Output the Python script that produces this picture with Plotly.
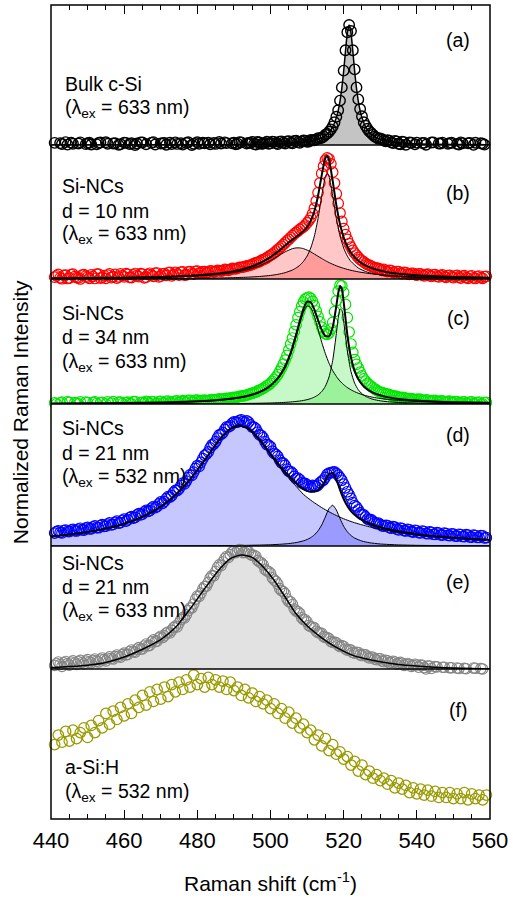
import numpy as np
import plotly.graph_objects as go
from plotly.subplots import make_subplots

# ------------------------------------------------------------------ data
shift_x = np.arange(441, 560)            # integer grid, cm^-1 (441 ... 559)
shift_x_half = np.arange(441.5, 559, 1)  # half-step grid (441.5 ... 558.5)

# (a) bulk c-Si, 633 nm
bulk_x = np.concatenate([np.arange(441, 516), np.arange(516, 528, 0.5), np.arange(528, 560)])
bulk_y = [
    0.018, -0.014, 0.008, 0.024, -0.018, 0.010, -0.006, 0.022, -0.016, 0.014,
    0.004, -0.020, 0.017, -0.008, 0.023, -0.012, 0.012, -0.017, 0.006, 0.020,
    -0.010, 0.015, 0.000, -0.019, 0.021, 0.006, -0.013, 0.024, -0.007, 0.012,
    0.018, -0.015, 0.008, 0.022, -0.011, 0.003, 0.017, -0.016, 0.010, 0.023,
    -0.006, 0.014, 0.019, -0.013, 0.009, 0.025, -0.004, 0.016, -0.010, 0.020,
    0.010, 0.022, -0.002, 0.017, 0.026, 0.004, 0.021, 0.012, 0.027, 0.014,
    0.026, 0.008, 0.030, 0.012, 0.032, 0.014, 0.036, 0.018, 0.038, 0.026,
    0.042, 0.040, 0.056, 0.060, 0.085,
    0.11, 0.13, 0.155, 0.19, 0.235, 0.29, 0.37, 0.48, 0.62, 0.79, 0.94, 1.00,
    0.95, 0.79, 0.63, 0.48, 0.38, 0.30, 0.24, 0.19, 0.16, 0.135, 0.115, 0.10,
    0.085, 0.062, 0.055, 0.038, 0.040, 0.022, 0.034, 0.010, 0.028, 0.002,
    0.022, -0.008, 0.020, -0.012, 0.018, -0.004, 0.021, -0.015, 0.012, 0.020,
    -0.010, 0.016, -0.017, 0.009, 0.022, -0.012, 0.014, -0.003, 0.019, -0.013,
    0.010, -0.006,
]
bulk_x_half = np.concatenate([np.arange(441.5, 516, 1), np.arange(528.5, 559, 1)])
bulk_y_half = [
    -0.004, 0.016, -0.012, 0.003, 0.020, -0.009, 0.013, -0.015, 0.007, 0.019,
    -0.011, 0.005, 0.021, -0.006, 0.010, -0.018, 0.015, 0.001, -0.013, 0.018,
    0.008, -0.016, 0.012, 0.022, -0.003, -0.015, 0.019, 0.004, -0.010, 0.016,
    0.002, 0.020, -0.012, 0.009, 0.014, -0.007, 0.023, 0.000, -0.014, 0.011,
    0.020, -0.009, 0.006, 0.017, -0.002, 0.012, 0.022, -0.008, 0.015, 0.005,
    0.024, -0.001, 0.013, 0.019, 0.007, 0.025, 0.009, 0.018, 0.011, 0.028,
    0.015, 0.027, 0.020, 0.030, 0.019, 0.033, 0.024, 0.030, 0.035, 0.029,
    0.040, 0.047, 0.055, 0.070, 0.095,
    0.070, 0.052, 0.048, 0.030, 0.035, 0.016, 0.030, 0.005, 0.024, -0.004,
    0.019, 0.006, -0.012, 0.017, 0.002, -0.009, 0.022, -0.005, 0.013, -0.016,
    0.010, 0.019, -0.008, 0.004, 0.015, -0.013, 0.018, 0.001, -0.007, 0.014,
    0.003,
]
bulk_fit_x = [440, 460, 480, 495, 505, 510, 513, 515, 516, 517, 518, 518.5, 519, 519.5, 520,
              520.5, 521, 521.5, 522, 522.5, 523, 523.5, 524, 524.5, 525, 526, 527, 528, 530,
              533, 538, 545, 560]
bulk_fit_y = [0.0005, 0.001, 0.002, 0.005, 0.013, 0.027, 0.048, 0.079, 0.107, 0.151, 0.228,
              0.286, 0.366, 0.474, 0.616, 0.783, 0.935, 1.0, 0.935, 0.783, 0.616, 0.474, 0.366,
              0.286, 0.228, 0.151, 0.107, 0.079, 0.048, 0.027, 0.013, 0.0065, 0.0024]

# (b) Si-NCs d = 10 nm, 633 nm
nc10_y = [
    0.015, 0.038, 0.002, 0.033, 0.008, 0.040, 0.012, 0.000, 0.036, 0.016,
    0.034, 0.004, 0.041, 0.014, 0.006, 0.043, 0.020, 0.008, 0.042, 0.018,
    0.038, 0.012, 0.046, 0.020, 0.040, 0.015, 0.048, 0.022, 0.050, 0.025,
    0.046, 0.052, 0.026, 0.056, 0.033, 0.059, 0.035, 0.062, 0.040, 0.066,
    0.054, 0.062, 0.057, 0.066, 0.063, 0.071, 0.070, 0.079, 0.078, 0.087,
    0.090, 0.098, 0.104, 0.112, 0.121, 0.134, 0.145, 0.162, 0.176, 0.198,
    0.218, 0.246, 0.272, 0.302, 0.330, 0.362, 0.388, 0.414, 0.435, 0.467,
    0.510, 0.590, 0.720, 0.880, 0.990, 1.000, 0.890, 0.710, 0.550, 0.420,
    0.330, 0.265, 0.215, 0.180, 0.152, 0.130, 0.115, 0.100, 0.090, 0.082,
    0.080, 0.062, 0.070, 0.052, 0.061, 0.044, 0.054, 0.038, 0.048, 0.033,
    0.042, 0.026, 0.040, 0.021, 0.036, 0.018, 0.034, 0.014, 0.031, 0.011,
    0.030, 0.008, 0.028, 0.006, 0.027, 0.004, 0.025, 0.006, 0.022,
]
nc10_y_half = [
    0.026, 0.010, 0.030, 0.004, 0.037, 0.020, 0.009, 0.032, 0.024, 0.005,
    0.022, 0.040, 0.007, 0.028, 0.033, 0.011, 0.039, 0.017, 0.029, 0.044,
    0.014, 0.035, 0.028, 0.045, 0.010, 0.038, 0.032, 0.049, 0.018, 0.042,
    0.030, 0.055, 0.036, 0.043, 0.058, 0.032, 0.060, 0.046, 0.064, 0.050,
    0.062, 0.054, 0.068, 0.060, 0.072, 0.066, 0.080, 0.072, 0.088, 0.084,
    0.097, 0.100, 0.110, 0.115, 0.130, 0.138, 0.155, 0.168, 0.188, 0.207,
    0.232, 0.258, 0.287, 0.317, 0.346, 0.376, 0.400, 0.425, 0.450, 0.487,
    0.545, 0.650, 0.800, 0.940, 1.010, 0.960, 0.800, 0.630, 0.480, 0.370,
    0.295, 0.238, 0.198, 0.163, 0.142, 0.120, 0.108, 0.094, 0.088, 0.072,
    0.066, 0.072, 0.056, 0.062, 0.047, 0.056, 0.040, 0.048, 0.036, 0.043,
    0.033, 0.037, 0.028, 0.034, 0.023, 0.031, 0.020, 0.028, 0.017, 0.026,
    0.015, 0.024, 0.012, 0.023, 0.010, 0.021, 0.012, 0.019,
]
nc10_fit_x = [440, 450, 460, 470, 480, 485, 490, 494, 497, 500, 502, 504, 506, 507, 508, 509,
              510, 511, 512, 513, 514, 515, 515.5, 516, 517, 518, 519, 520, 521, 522, 524, 526,
              528, 531, 535, 540, 550, 560]
nc10_comp1 = [0.0045, 0.0062, 0.009, 0.0141, 0.0251, 0.0359, 0.0544, 0.08, 0.110, 0.153,
              0.189, 0.226, 0.253, 0.259, 0.259, 0.253, 0.241, 0.226, 0.208, 0.189,
              0.171, 0.153, 0.145, 0.137, 0.123, 0.110, 0.0987, 0.0888, 0.08, 0.0723,
              0.0596, 0.0498, 0.042, 0.0333, 0.0251, 0.0185, 0.0112, 0.0074]
nc10_comp2 = [0.0013, 0.0017, 0.0024, 0.0036, 0.0058, 0.0079, 0.0112, 0.0157, 0.0211, 0.0297,
              0.0388, 0.0527, 0.075, 0.0918, 0.1144, 0.146, 0.191, 0.258, 0.358, 0.505,
              0.694, 0.855, 0.88, 0.855, 0.694, 0.505, 0.358, 0.258, 0.191, 0.146,
              0.0918, 0.0624, 0.0449, 0.0297, 0.019, 0.0122, 0.0062, 0.0037]

# (c) Si-NCs d = 34 nm, 633 nm
nc34_y = [
    0.010, -0.012, 0.016, -0.008, 0.013, -0.014, 0.008, 0.018, -0.010, 0.012,
    -0.002, 0.017, -0.011, 0.014, 0.000, -0.009, 0.019, -0.003, 0.015, -0.007,
    0.016, 0.001, 0.020, -0.002, 0.014, 0.022, 0.002, 0.018, 0.005, 0.023,
    0.009, 0.025, 0.007, 0.024, 0.012, 0.028, 0.015, 0.031, 0.018, 0.033,
    0.026, 0.033, 0.028, 0.037, 0.035, 0.042, 0.040, 0.048, 0.050, 0.056,
    0.058, 0.066, 0.070, 0.080, 0.090, 0.100, 0.116, 0.130, 0.152, 0.172,
    0.205, 0.245, 0.300, 0.365, 0.450, 0.550, 0.660, 0.770, 0.850, 0.885,
    0.880, 0.820, 0.730, 0.640, 0.585, 0.590, 0.680, 0.860, 0.990, 0.930,
    0.720, 0.500, 0.370, 0.300, 0.235, 0.190, 0.160, 0.135, 0.115, 0.100,
    0.090, 0.082, 0.072, 0.066, 0.058, 0.055, 0.048, 0.046, 0.040, 0.038,
    0.038, 0.028, 0.033, 0.022, 0.030, 0.020, 0.026, 0.014, 0.024, 0.012,
    0.020, 0.008, 0.018, 0.004, 0.017, 0.002, 0.015, 0.000, 0.013,
]
nc34_y_half = [
    0.002, 0.009, -0.006, 0.017, -0.010, 0.011, 0.001, -0.004, 0.015, -0.008,
    0.014, 0.004, 0.009, -0.006, 0.018, 0.008, -0.003, 0.016, 0.004, 0.011,
    0.006, 0.019, -0.001, 0.012, 0.007, 0.015, 0.021, 0.004, 0.020, 0.010,
    0.023, 0.014, 0.017, 0.027, 0.018, 0.021, 0.030, 0.020, 0.032, 0.024,
    0.031, 0.029, 0.034, 0.034, 0.039, 0.039, 0.045, 0.047, 0.053, 0.056,
    0.063, 0.067, 0.075, 0.085, 0.094, 0.108, 0.122, 0.141, 0.160, 0.188,
    0.224, 0.272, 0.332, 0.405, 0.500, 0.605, 0.720, 0.815, 0.875, 0.890,
    0.855, 0.775, 0.685, 0.605, 0.580, 0.625, 0.770, 0.940, 0.985, 0.830,
    0.600, 0.430, 0.330, 0.265, 0.210, 0.172, 0.148, 0.125, 0.106, 0.095,
    0.083, 0.079, 0.066, 0.064, 0.053, 0.054, 0.044, 0.045, 0.036, 0.041,
    0.029, 0.034, 0.024, 0.029, 0.020, 0.026, 0.017, 0.022, 0.013, 0.020,
    0.009, 0.017, 0.005, 0.015, 0.003, 0.012, 0.000, 0.011,
]
nc34_fit_x = [440, 450, 460, 470, 480, 485, 490, 493, 495, 497, 499, 500, 501, 502, 503, 504,
              505, 506, 507, 508, 509, 510, 511, 512, 513, 514, 515, 516, 517, 518, 518.5, 519,
              519.5, 520, 521, 522, 523, 524, 525, 526, 527, 528, 530, 532, 535, 540, 545, 550,
              560]
nc34_comp1 = [0.0038, 0.0052, 0.0074, 0.0115, 0.0201, 0.0285, 0.0434, 0.0586, 0.0735, 0.0945,
              0.125, 0.146, 0.173, 0.206, 0.248, 0.301, 0.37, 0.455, 0.557, 0.667,
              0.764, 0.817, 0.803, 0.729, 0.623, 0.514, 0.419, 0.34, 0.278, 0.23, 0.209,
              0.191, 0.1755, 0.161, 0.137, 0.118, 0.1025, 0.0896, 0.079, 0.070, 0.0626, 0.0562,
              0.046, 0.0383, 0.0298, 0.0209, 0.0154, 0.0118, 0.0076]
nc34_comp2 = [0.0005, 0.0007, 0.0009, 0.0013, 0.0021, 0.0027, 0.0037, 0.0047, 0.0055, 0.0065,
              0.0078, 0.0086, 0.0096, 0.0107, 0.0122, 0.0138, 0.0158, 0.0183, 0.0213, 0.0247,
              0.0296, 0.036, 0.045, 0.0573, 0.0754, 0.103, 0.148, 0.225, 0.362, 0.588, 0.713,
              0.792, 0.782, 0.69, 0.442, 0.27, 0.1735, 0.118, 0.085, 0.0637, 0.0494, 0.0392,
              0.0265, 0.019, 0.0126, 0.0073, 0.0048, 0.0034, 0.0019]

# (d) Si-NCs d = 21 nm, 532 nm
nc21g_y = [
    0.108, 0.127, 0.109, 0.132, 0.119, 0.139, 0.125, 0.148, 0.133, 0.156,
    0.143, 0.167, 0.152, 0.178, 0.166, 0.192, 0.180, 0.207, 0.195, 0.224,
    0.217, 0.245, 0.239, 0.269, 0.265, 0.297, 0.295, 0.329, 0.329, 0.367,
    0.371, 0.412, 0.419, 0.463, 0.476, 0.524, 0.541, 0.593, 0.615, 0.671,
    0.697, 0.756, 0.784, 0.843, 0.870, 0.926, 0.945, 0.993, 1.001, 1.035,
    1.033, 1.052, 1.031, 1.032, 0.991, 0.977, 0.926, 0.902, 0.845, 0.827,
    0.771, 0.747, 0.692, 0.672, 0.621, 0.607, 0.562, 0.552, 0.519, 0.510,
    0.495, 0.502, 0.507, 0.540, 0.572, 0.607, 0.616, 0.605, 0.570, 0.515,
    0.452, 0.397, 0.337, 0.302, 0.262, 0.242, 0.217, 0.207, 0.187, 0.180,
    0.165, 0.171, 0.149, 0.157, 0.135, 0.145, 0.125, 0.135, 0.116, 0.127,
    0.109, 0.121, 0.102, 0.114, 0.096, 0.108, 0.091, 0.103, 0.086, 0.099,
    0.082, 0.095, 0.078, 0.091, 0.074, 0.087, 0.071, 0.084, 0.069,
]
nc21g_y_half = [
    0.120, 0.113, 0.128, 0.121, 0.133, 0.127, 0.140, 0.134, 0.149, 0.143,
    0.160, 0.153, 0.170, 0.163, 0.183, 0.176, 0.197, 0.190, 0.213, 0.208,
    0.236, 0.233, 0.259, 0.259, 0.285, 0.288, 0.316, 0.319, 0.351, 0.356,
    0.395, 0.408, 0.447, 0.462, 0.504, 0.518, 0.571, 0.588, 0.647, 0.663,
    0.728, 0.766, 0.817, 0.850, 0.900, 0.930, 0.972, 0.993, 1.022, 1.030,
    1.046, 1.038, 1.042, 1.010, 0.990, 0.948, 0.921, 0.870, 0.840, 0.790,
    0.764, 0.715, 0.690, 0.640, 0.621, 0.580, 0.565, 0.527, 0.522, 0.497,
    0.505, 0.497, 0.527, 0.550, 0.597, 0.610, 0.617, 0.590, 0.548, 0.485,
    0.427, 0.362, 0.326, 0.276, 0.259, 0.225, 0.219, 0.193, 0.190, 0.168,
    0.172, 0.153, 0.161, 0.140, 0.149, 0.128, 0.139, 0.120, 0.131, 0.111,
    0.125, 0.105, 0.118, 0.098, 0.112, 0.093, 0.107, 0.088, 0.102, 0.083,
    0.098, 0.079, 0.094, 0.075, 0.090, 0.071, 0.087, 0.068,
]
nc21g_fit_x = [440, 445, 450, 455, 460, 465, 470, 474, 478, 482, 486, 489, 491.5, 494, 497, 500,
               503, 505, 507, 509, 510, 511, 512, 513, 514, 515, 516, 517, 518, 519, 520, 521,
               522, 523, 525, 527, 530, 535, 540, 545, 550, 555, 560]
nc21g_comp1 = [0.0782, 0.0943, 0.1156, 0.1445, 0.1848, 0.2427, 0.3274, 0.4235, 0.5525, 0.7137,
               0.8816, 0.973, 1.0, 0.973, 0.8816, 0.757, 0.635, 0.565, 0.497, 0.43,
               0.405, 0.382, 0.36, 0.34, 0.32, 0.302, 0.285, 0.269, 0.254, 0.24,
               0.227, 0.215, 0.204, 0.194, 0.176, 0.16, 0.14, 0.113, 0.093, 0.078,
               0.066, 0.057, 0.05]
nc21g_comp2 = [0.0005, 0.0006, 0.0007, 0.0008, 0.001, 0.0012, 0.0014, 0.0017, 0.0021, 0.0025,
               0.0032, 0.0038, 0.0047, 0.0057, 0.0076, 0.0104, 0.0152, 0.0203, 0.0286, 0.0429,
               0.054, 0.0698, 0.0927, 0.1264, 0.1758, 0.2427, 0.312, 0.3397, 0.2998, 0.2282,
               0.1645, 0.1186, 0.0874, 0.0662, 0.041, 0.0276, 0.0169, 0.0091, 0.0056, 0.0038,
               0.0028, 0.0021, 0.0016]

# (e) Si-NCs d = 21 nm, 633 nm
nc21r_y = [
    0.030, 0.058, 0.022, 0.062, 0.032, 0.068, 0.038, 0.072, 0.042, 0.078,
    0.050, 0.083, 0.058, 0.092, 0.068, 0.102, 0.083, 0.117, 0.098, 0.132,
    0.122, 0.158, 0.140, 0.178, 0.167, 0.208, 0.197, 0.243, 0.232, 0.273,
    0.277, 0.308, 0.322, 0.358, 0.382, 0.428, 0.452, 0.508, 0.542, 0.608,
    0.632, 0.688, 0.722, 0.778, 0.812, 0.868, 0.892, 0.938, 0.952, 0.983,
    0.982, 0.993, 0.972, 0.978, 0.947, 0.938, 0.892, 0.868, 0.817, 0.798,
    0.742, 0.708, 0.652, 0.628, 0.562, 0.538, 0.482, 0.463, 0.412, 0.393,
    0.352, 0.343, 0.302, 0.298, 0.262, 0.253, 0.222, 0.218, 0.187, 0.188,
    0.157, 0.158, 0.132, 0.138, 0.112, 0.118, 0.092, 0.098, 0.077, 0.086,
    0.062, 0.068, 0.057, 0.058, 0.047, 0.048, 0.037, 0.038, 0.030, 0.033,
    0.032, 0.012, 0.025, 0.004, 0.020, -0.004, 0.015, -0.009, 0.010, -0.014,
    0.008, -0.018, 0.005, -0.013, -0.022, 0.006, -0.020, 0.000, -0.015,
]
nc21r_y_half = [
    0.046, 0.038, 0.052, 0.045, 0.056, 0.050, 0.060, 0.054, 0.066, 0.058,
    0.072, 0.066, 0.081, 0.079, 0.090, 0.089, 0.103, 0.105, 0.120, 0.118,
    0.146, 0.145, 0.165, 0.166, 0.192, 0.193, 0.226, 0.228, 0.259, 0.262,
    0.300, 0.300, 0.345, 0.351, 0.412, 0.426, 0.487, 0.510, 0.581, 0.605,
    0.668, 0.690, 0.757, 0.775, 0.846, 0.861, 0.921, 0.930, 0.975, 0.970,
    0.995, 0.970, 0.982, 0.955, 0.948, 0.905, 0.885, 0.830, 0.812, 0.760,
    0.730, 0.670, 0.645, 0.585, 0.560, 0.500, 0.478, 0.427, 0.410, 0.362,
    0.350, 0.315, 0.300, 0.270, 0.262, 0.230, 0.225, 0.198, 0.195, 0.167,
    0.162, 0.137, 0.140, 0.118, 0.120, 0.100, 0.100, 0.082, 0.086, 0.066,
    0.072, 0.050, 0.065, 0.040, 0.055, 0.030, 0.046, 0.022, 0.040, 0.015,
    0.030, 0.000, 0.024, -0.006, 0.018, -0.012, 0.014, -0.016, 0.010, -0.020,
    0.004, -0.024, 0.002, -0.020, 0.008, -0.025, 0.003, -0.018,
]
nc21r_fit_x = [440, 445, 450, 455, 460, 465, 470, 474, 478, 482, 486, 489, 492, 495, 498, 501,
               504, 507, 510, 514, 518, 522, 526, 530, 535, 540, 545, 550, 555, 560]
nc21r_fit_y = [0.010, 0.020, 0.032, 0.055, 0.100, 0.165, 0.245, 0.345, 0.500, 0.670,
               0.830, 0.920, 0.950, 0.930, 0.850, 0.740, 0.600, 0.460, 0.360, 0.260,
               0.180, 0.120, 0.085, 0.060, 0.038, 0.025, 0.015, 0.008, 0.004, 0.000]

# (f) a-Si:H, 532 nm
asih_y = [
    0.62, 0.70, 0.64, 0.73, 0.65, 0.74, 0.67, 0.72, 0.76, 0.68,
    0.78, 0.72, 0.82, 0.76, 0.88, 0.79, 0.90, 0.83, 0.93, 0.86,
    0.96, 0.88, 0.99, 0.93, 1.03, 0.95, 1.06, 0.98, 1.08, 1.00,
    1.10, 1.02, 1.12, 1.06, 1.14, 1.08, 1.16, 1.10, 1.20, 1.12,
    1.17, 1.10, 1.18, 1.12, 1.16, 1.10, 1.15, 1.08, 1.14, 1.07,
    1.10, 1.03, 1.08, 1.01, 1.05, 0.98, 1.02, 0.96, 0.99, 0.92,
    0.96, 0.88, 0.92, 0.84, 0.89, 0.80, 0.84, 0.76, 0.79, 0.72,
    0.74, 0.66, 0.70, 0.61, 0.67, 0.57, 0.62, 0.54, 0.56, 0.50,
    0.52, 0.45, 0.48, 0.40, 0.45, 0.37, 0.40, 0.34, 0.37, 0.32,
    0.34, 0.29, 0.32, 0.26, 0.30, 0.25, 0.28, 0.22, 0.26, 0.21,
    0.25, 0.20, 0.24, 0.19, 0.23, 0.18, 0.22, 0.18, 0.22, 0.17,
    0.21, 0.17, 0.22, 0.16, 0.21, 0.17, 0.20, 0.16, 0.20,
]

panel_labels = ["(a)", "(b)", "(c)", "(d)", "(e)", "(f)"]
panel_texts = [
    ["Bulk c-Si", "(λ<sub>ex</sub> = 633 nm)"],
    ["Si-NCs", "d = 10 nm", "(λ<sub>ex</sub> = 633 nm)"],
    ["Si-NCs", "d = 34 nm", "(λ<sub>ex</sub> = 633 nm)"],
    ["Si-NCs", "d = 21 nm", "(λ<sub>ex</sub> = 532 nm)"],
    ["Si-NCs", "d = 21 nm", "(λ<sub>ex</sub> = 633 nm)"],
    ["a-Si:H", "(λ<sub>ex</sub> = 532 nm)"],
]
x_tick_vals = [440, 460, 480, 500, 520, 540, 560]

# ------------------------------------------------------------------ figure
W, H = 513, 898
ML, MR, MT, MB = 51, 20, 5, 79
PW, PH = W - ML - MR, H - MT - MB
heights_px = [140, 134, 125, 142, 123, 150]
UNIT = 120.0
FONT = "Liberation Sans, Arial, Helvetica, sans-serif"

fig = make_subplots(rows=6, cols=1, vertical_spacing=0, row_heights=heights_px)


def add_markers(row, x, y, color, lw=1.1):
    fig.add_trace(go.Scatter(x=x, y=y, mode="markers", cliponaxis=False,
                             marker=dict(symbol="circle-open", size=10.5, color=color,
                                         line=dict(width=lw, color=color)),
                             showlegend=False, hoverinfo="skip"), row=row, col=1)


def add_fill(row, x, y, fillcolor):
    fig.add_trace(go.Scatter(x=x, y=y, mode="lines", fill="tozeroy", fillcolor=fillcolor,
                             line=dict(width=0, shape="spline", smoothing=0.6),
                             showlegend=False, hoverinfo="skip"), row=row, col=1)


def add_line(row, x, y, width):
    fig.add_trace(go.Scatter(x=x, y=y, mode="lines",
                             line=dict(color="black", width=width, shape="spline", smoothing=0.6),
                             showlegend=False, hoverinfo="skip"), row=row, col=1)


def both(xa, ya, xb, yb):
    return np.concatenate([xa, xb]), np.concatenate([ya, yb])


# (a)
add_fill(1, bulk_fit_x, bulk_fit_y, "#c4c4c4")
add_markers(1, *both(bulk_x, bulk_y, bulk_x_half, bulk_y_half), "#000000", lw=1.4)
add_line(1, bulk_fit_x, bulk_fit_y, 1.5)

# (b)
nc10_total = np.array(nc10_comp1) + np.array(nc10_comp2)
add_fill(2, nc10_fit_x, nc10_comp1, "rgba(255,0,0,0.22)")
add_fill(2, nc10_fit_x, nc10_comp2, "rgba(255,0,0,0.22)")
add_markers(2, *both(shift_x, nc10_y, shift_x_half, nc10_y_half), "#ff0000", lw=1.2)
add_line(2, nc10_fit_x, nc10_comp1, 1)
add_line(2, nc10_fit_x, nc10_comp2, 1)
add_line(2, nc10_fit_x, nc10_total, 2)

# (c)
nc34_total = np.array(nc34_comp1) + np.array(nc34_comp2)
add_fill(3, nc34_fit_x, nc34_comp1, "rgba(0,225,0,0.22)")
add_fill(3, nc34_fit_x, nc34_comp2, "rgba(0,225,0,0.22)")
add_markers(3, *both(shift_x, nc34_y, shift_x_half, nc34_y_half), "#00e600", lw=1.2)
add_line(3, nc34_fit_x, nc34_comp1, 1)
add_line(3, nc34_fit_x, nc34_comp2, 1)
add_line(3, nc34_fit_x, nc34_total, 2)

# (d)
nc21g_total = np.array(nc21g_comp1) + np.array(nc21g_comp2)
add_fill(4, nc21g_fit_x, nc21g_comp1, "rgba(0,0,255,0.22)")
add_fill(4, nc21g_fit_x, nc21g_comp2, "rgba(0,0,255,0.22)")
add_markers(4, *both(shift_x, nc21g_y, shift_x_half, nc21g_y_half), "#0000ff", lw=1.2)
add_line(4, nc21g_fit_x, nc21g_comp1, 1)
add_line(4, nc21g_fit_x, nc21g_comp2, 1)
add_line(4, nc21g_fit_x, nc21g_total, 2)

# (e)
add_fill(5, nc21r_fit_x, nc21r_fit_y, "#e2e2e2")
add_markers(5, *both(shift_x, nc21r_y, shift_x_half, nc21r_y_half), "#858585")
add_line(5, nc21r_fit_x, nc21r_fit_y, 1.5)

# (f)
add_markers(6, shift_x, asih_y, "#999900", lw=1.25)

# axes
for r in range(1, 7):
    fig.update_yaxes(range=[0, heights_px[r - 1] / UNIT], visible=False, row=r, col=1)
    fig.update_xaxes(range=[440, 560], showgrid=False, zeroline=False, showline=False,
                     showticklabels=False, ticks="", row=r, col=1)

tick_common = dict(ticks="inside", ticklen=9, tickwidth=1.3, tickcolor="black",
                   tickmode="array", tickvals=x_tick_vals,
                   minor=dict(ticks="inside", ticklen=5, tickwidth=1.3, tickcolor="black",
                              dtick=5, tick0=440, showgrid=False))
fig.update_xaxes(side="top", **tick_common, row=1, col=1)
fig.update_xaxes(showticklabels=True, tickfont=dict(family=FONT, size=22, color="black"),
                 ticklabelstandoff=6, **tick_common, row=6, col=1)


def paper(px, py):
    return (px - ML) / PW, (H - MB - py) / PH


shapes = [dict(type="rect", xref="paper", yref="paper", x0=0, x1=1, y0=0, y1=1,
               line=dict(color="black", width=1.5), layer="above")]
for r in range(1, 6):
    key = "yaxis" if r == 1 else f"yaxis{r}"
    yb = fig.layout[key].domain[0]
    shapes.append(dict(type="line", xref="paper", yref="paper", x0=0, x1=1, y0=yb, y1=yb,
                       line=dict(color="black", width=1.5), layer="above"))

annotations = []
label_y_px = [40, 193, 318, 435, 582, 710]
text_pos_px = [
    (63, [84, 109]),
    (60, [186, 211, 235]),
    (60, [313, 337, 362]),
    (60, [428, 453, 477]),
    (60, [563, 587, 611]),
    (63, [767, 792]),
]
for i in range(6):
    lx, ly = paper(461, label_y_px[i])
    annotations.append(dict(x=lx, y=ly, xref="paper", yref="paper", text=panel_labels[i],
                            showarrow=False, xanchor="center", yanchor="middle",
                            font=dict(family=FONT, size=19.5, color="black")))
    px0, ys = text_pos_px[i]
    for txt, py in zip(panel_texts[i], ys):
        tx, ty = paper(px0, py)
        annotations.append(dict(x=tx, y=ty, xref="paper", yref="paper", text=txt,
                                showarrow=False, xanchor="left", yanchor="middle",
                                font=dict(family=FONT, size=19.5, color="black")))

yx, yy = paper(20, 412)
annotations.append(dict(x=yx, y=yy, xref="paper", yref="paper", text="Normalized Raman Intensity",
                        textangle=-90, showarrow=False, xanchor="center", yanchor="middle",
                        font=dict(family=FONT, size=21, color="black")))
tx, ty = paper(272, 882)
annotations.append(dict(x=tx, y=ty, xref="paper", yref="paper", text="Raman shift (cm<sup>-1</sup>)",
                        showarrow=False, xanchor="center", yanchor="middle",
                        font=dict(family=FONT, size=21, color="black")))

fig.update_layout(width=W, height=H, autosize=False,
                  margin=dict(l=ML, r=MR, t=MT, b=MB, pad=0),
                  paper_bgcolor="white", plot_bgcolor="white",
                  showlegend=False, shapes=shapes, annotations=annotations,
                  font=dict(family=FONT, color="black"))

fig.write_html("out.html")
